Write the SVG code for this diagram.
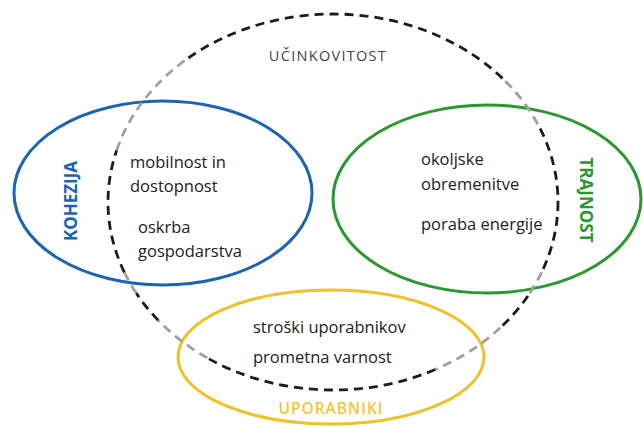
<svg xmlns="http://www.w3.org/2000/svg" width="643" height="427" viewBox="0 0 643 427">
<style>
.t{font-family:"Open Sans","Liberation Sans",sans-serif;font-size:16.5px;fill:#222222}
.lbl{font-family:"Open Sans","Liberation Sans",sans-serif;font-weight:bold;font-size:17px}
.dk{fill:none;stroke:#1c1c1c;stroke-width:2.8;stroke-dasharray:9 6}
.gr{fill:none;stroke:#a0a0a0;stroke-width:2.8;stroke-dasharray:9 6}
</style>
<rect width="643" height="427" fill="#ffffff"/>
<g id="kohezija">
<ellipse cx="163" cy="193" rx="149" ry="92" fill="none" stroke="#1b63b5" stroke-width="3"/>
<text class="lbl" fill="#1b63b5" transform="translate(77,201) rotate(-90)" text-anchor="middle">KOHEZIJA</text>
<text class="t" x="130" y="168">mobilnost in</text>
<text class="t" x="130" y="192">dostopnost</text>
<text class="t" x="138" y="233">oskrba</text>
<text class="t" x="138" y="257">gospodarstva</text>
</g>
<g id="trajnost">
<ellipse cx="487" cy="199" rx="154" ry="94" fill="none" stroke="#2a982f" stroke-width="3"/>
<text class="lbl" fill="#2a982f" transform="translate(580,200) rotate(90)" text-anchor="middle">TRAJNOST</text>
<text class="t" x="421" y="165">okoljske</text>
<text class="t" x="421" y="190">obremenitve</text>
<text class="t" x="421" y="230">poraba energije</text>
</g>
<g id="uporabniki">
<ellipse cx="331" cy="357" rx="153" ry="67" fill="none" stroke="#f0c028" stroke-width="3"/>
<text class="t" x="253" y="333">stroški uporabnikov</text>
<text class="t" x="253" y="363">prometna varnost</text>
<text x="331" y="414" text-anchor="middle" font-family="'Open Sans','Liberation Sans',sans-serif" font-size="15.5" font-weight="600" letter-spacing="1" fill="#f2c63a">UPORABNIKI</text>
</g>
<g id="ucinkovitost">
<path class="dk" d="M558 202 A225 188 0 0 1 541.6 272.4"/>
<path class="gr" d="M541.6 272.4 A225 188 0 0 1 527.9 296"/>
<path class="dk" d="M527.9 296 A225 188 0 0 1 500.2 327.8"/>
<path class="gr" d="M500.2 327.8 A225 188 0 0 1 435.2 369.5"/>
<path class="dk" d="M435.2 369.5 A225 188 0 0 1 207.2 357.9"/>
<path class="gr" d="M207.2 357.9 A225 188 0 0 1 158.2 320.3"/>
<path class="dk" d="M158.2 320.3 A225 188 0 0 1 136.2 293.1"/>
<path class="gr" d="M136.2 293.1 A225 188 0 0 1 124.4 272.4"/>
<path class="dk" d="M124.4 272.4 A225 188 0 0 1 116.7 150.2"/>
<path class="gr" d="M116.7 150.2 A225 188 0 0 1 188.4 58"/>
<path class="dk" d="M188.4 58 A225 188 0 0 1 505.4 81.2"/>
<path class="gr" d="M505.4 81.2 A225 188 0 0 1 540.1 128.5"/>
<path class="dk" d="M540.1 128.5 A225 188 0 0 1 558 202"/>
<text x="328" y="61" text-anchor="middle" font-family="'Open Sans','Liberation Sans',sans-serif" font-size="14.5" letter-spacing="1.3" fill="#444444">UČINKOVITOST</text>
</g>
<g id="connectors"/>
</svg>
